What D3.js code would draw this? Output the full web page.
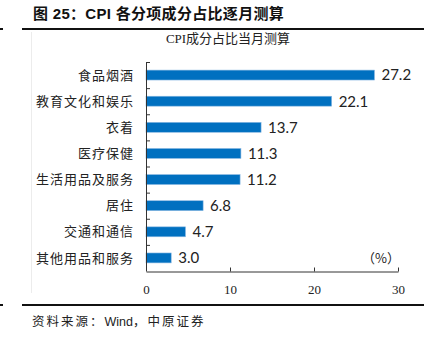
<!DOCTYPE html>
<html>
<head>
<meta charset="utf-8">
<script src="https://cdn.jsdelivr.net/npm/d3@7/dist/d3.min.js"></script>
<style>
  html, body { margin: 0; padding: 0; background: #fff; }
  svg { display: block; }
</style>
</head>
<body>
<svg id="chart" width="434" height="338"></svg>
<script>
// CPI component weights, current-month estimate (%)
const categories = ["食品烟酒", "教育文化和娱乐", "衣着", "医疗保健", "生活用品及服务", "居住", "交通和通信", "其他用品和服务"];
const shares = [27.2, 22.1, 13.7, 11.3, 11.2, 6.8, 4.7, 3.0];
const xTicks = [0, 10, 20, 30];

const svg = d3.select("#chart");
const cjk = "'Noto Sans CJK SC', 'Noto Sans', sans-serif";

// Report header
svg.append("text")
  .attr("x", 33).attr("y", 19)
  .attr("font-family", "'Liberation Sans', " + cjk)
  .attr("font-size", 15).attr("font-weight", "bold")
  .attr("letter-spacing", 0.3)
  .attr("fill", "#111")
  .text("图 25：CPI 各分项成分占比逐月测算");

// Header / footer rules with the small left markers
[29, 305].forEach(y => {
  svg.append("rect").attr("x", 22).attr("y", y - 1).attr("width", 402).attr("height", 2).attr("fill", "#111");
  svg.append("rect").attr("x", 0).attr("y", y - 1).attr("width", 3).attr("height", 2).attr("fill", "#111");
});

// Faint frame edge of the chart area
svg.append("line")
  .attr("x1", 31.5).attr("x2", 31.5).attr("y1", 32).attr("y2", 293)
  .attr("stroke", "#ececec").attr("stroke-width", 1);

// Chart title
svg.append("text")
  .attr("x", 228).attr("y", 43)
  .attr("text-anchor", "middle")
  .attr("font-family", "'Liberation Serif', " + cjk)
  .attr("font-size", 13)
  .attr("fill", "#222")
  .text("CPI成分占比当月测算");

const x = d3.scaleLinear().domain([0, 30]).range([146, 398]);
const y = d3.scaleBand().domain(categories).range([62, 271]).paddingInner(0.62).paddingOuter(0.31);

// Bars
svg.append("g").selectAll("rect")
  .data(categories)
  .join("rect")
  .attr("x", x(0))
  .attr("y", d => y(d))
  .attr("width", (d, i) => x(shares[i]) - x(0))
  .attr("height", y.bandwidth())
  .attr("fill", "#0070C0")
  .attr("stroke", "#8ab8e2")
  .attr("stroke-width", 0.6);

// Value labels
svg.append("g").selectAll("text")
  .data(categories)
  .join("text")
  .attr("x", (d, i) => x(shares[i]) + 7)
  .attr("y", d => y(d) + y.bandwidth() / 2)
  .attr("dy", "0.36em")
  .attr("font-family", "Lato, 'Liberation Sans', sans-serif")
  .attr("font-size", 15)
  .attr("fill", "#222")
  .text((d, i) => shares[i].toFixed(1));

// Category labels
svg.append("g").selectAll("text")
  .data(categories)
  .join("text")
  .attr("x", 134)
  .attr("y", d => y(d) + y.bandwidth() / 2)
  .attr("dy", "0.36em")
  .attr("text-anchor", "end")
  .attr("font-family", cjk)
  .attr("font-size", 13)
  .attr("letter-spacing", 1)
  .attr("fill", "#222")
  .text(d => d);

// Vertical axis line with inward ticks between categories
const yAxis = svg.append("g").attr("stroke", "#333").attr("stroke-width", 1);
yAxis.append("line")
  .attr("x1", x(0) + 0.5).attr("x2", x(0) + 0.5)
  .attr("y1", y.range()[0]).attr("y2", y.range()[1]);
yAxis.selectAll("line.tick")
  .data(d3.range(categories.length))
  .join("line")
  .attr("class", "tick")
  .attr("x1", x(0)).attr("x2", x(0) + 4)
  .attr("y1", i => y.range()[0] + i * y.step() + 0.5)
  .attr("y2", i => y.range()[0] + i * y.step() + 0.5);

// Horizontal axis
const xAxis = svg.append("g")
  .attr("transform", "translate(0,271.5)")
  .call(d3.axisBottom(x).tickValues(xTicks).tickSize(-4).tickSizeOuter(0).tickPadding(13).tickFormat(d3.format("d")));
xAxis.select(".domain").attr("stroke", "#333");
xAxis.selectAll(".tick line").attr("stroke", "#333");
xAxis.selectAll(".tick text")
  .attr("font-family", "'Liberation Serif', serif")
  .attr("font-size", 13)
  .attr("fill", "#222");

// Unit note
svg.append("text")
  .attr("x", 400).attr("y", 263)
  .attr("text-anchor", "end")
  .attr("font-family", cjk)
  .attr("font-size", 13)
  .attr("fill", "#222")
  .text("（%）");

// Source line: CJK runs spaced out, Latin run set tight
const source = svg.append("text")
  .attr("x", 32).attr("y", 326)
  .attr("font-family", "'Liberation Sans', " + cjk)
  .attr("font-size", 12.5)
  .attr("fill", "#222");
[["资料来源：", 2], ["Wind", 0], ["，中原证券", 2]].forEach(([t, ls]) => {
  source.append("tspan").attr("letter-spacing", ls).text(t);
});
</script>
</body>
</html>
